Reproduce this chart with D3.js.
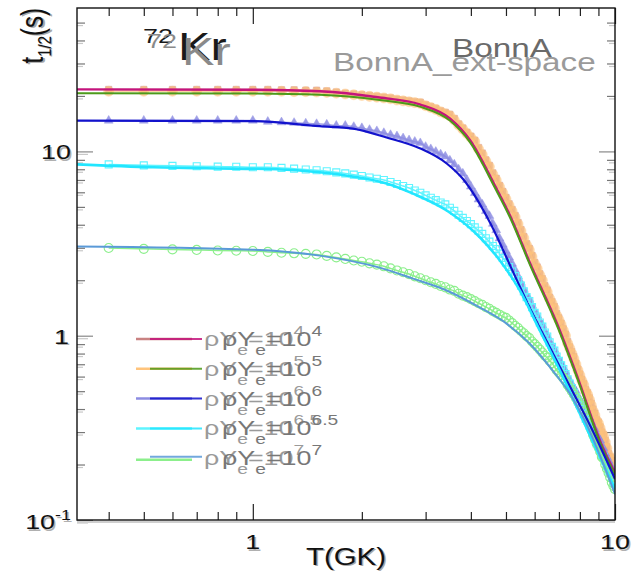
<!DOCTYPE html>
<html>
<head>
<meta charset="utf-8">
<script src="https://cdnjs.cloudflare.com/ajax/libs/d3/7.8.5/d3.min.js"></script>
<style>
body { margin: 0; background: #fff; }
text { font-family: "Liberation Sans", Arial, sans-serif; }
</style>
</head>
<body>
<div id="chart"></div>
<script>
// Temperature grid of the ext-space points (GK)
var tempGrid = [
	0.4, 0.5, 0.6, 0.7, 0.8, 0.9, 1.0, 1.1, 1.2, 1.3,
	1.4, 1.5, 1.6, 1.7, 1.8, 1.9, 2.0, 2.1, 2.2, 2.3,
	2.4, 2.5, 2.6, 2.7, 2.8, 2.9, 3.0, 3.1, 3.2, 3.3,
	3.4, 3.5, 3.6, 3.7, 3.8, 3.9, 4.0, 4.1, 4.2, 4.3,
	4.4, 4.5, 4.6, 4.7, 4.8, 4.9, 5.0, 5.1, 5.2, 5.3,
	5.4, 5.5, 5.6, 5.7, 5.8, 5.9, 6.0, 6.1, 6.2, 6.3,
	6.4, 6.5, 6.6, 6.7, 6.8, 6.9, 7.0, 7.1, 7.2, 7.3,
	7.4, 7.5, 7.6, 7.7, 7.8, 7.9, 8.0, 8.1, 8.2, 8.3,
	8.4, 8.5, 8.6, 8.7, 8.8, 8.9, 9.0, 9.1, 9.2, 9.3,
	9.4, 9.5, 9.6, 9.7, 9.8, 9.9, 10.0
];

// BonnA_ext-space half-lives (s), one value per tempGrid entry
var ext4 = [
	21.7, 21.7, 21.7, 21.7, 21.7, 21.7, 21.7, 21.7, 21.6, 21.6,
	21.5, 21.5, 21.3, 21.0, 20.7, 20.5, 20.3, 20.1, 19.9, 19.7,
	19.5, 19.2, 19.0, 18.8, 18.6, 18.5, 17.9, 17.5, 17.1, 16.6,
	16.3, 15.9, 15.1, 14.1, 13.4, 12.7, 12.1, 11.5, 10.5, 9.8,
	9.0, 8.4, 7.65, 7.15, 6.55, 6.07, 5.63, 5.2, 4.84, 4.49,
	4.12, 3.77, 3.46, 3.16, 2.98, 2.73, 2.5, 2.36, 2.17, 2.04,
	1.87, 1.77, 1.62, 1.53, 1.44, 1.32, 1.25, 1.17, 1.09, 1.02,
	0.93, 0.87, 0.82, 0.77, 0.71, 0.66, 0.62, 0.58, 0.55, 0.51,
	0.49, 0.46, 0.43, 0.40, 0.38, 0.35, 0.34, 0.32, 0.30, 0.29,
	0.27, 0.25, 0.23, 0.22, 0.21, 0.195, 0.19
];
var ext5 = [
	21.2, 21.2, 21.2, 21.2, 21.2, 21.2, 21.2, 21.2, 21.2, 21.1,
	21.1, 21.0, 20.9, 20.7, 20.5, 20.3, 20.1, 19.9, 19.7, 19.5,
	19.3, 19.0, 18.8, 18.6, 18.4, 18.2, 17.7, 17.3, 16.9, 16.4,
	16.0, 15.6, 14.8, 13.9, 13.2, 12.5, 11.9, 11.3, 10.3, 9.6,
	8.85, 8.25, 7.5, 7.0, 6.42, 5.95, 5.52, 5.1, 4.74, 4.4,
	4.04, 3.7, 3.39, 3.1, 2.92, 2.68, 2.45, 2.31, 2.13, 2.0,
	1.83, 1.73, 1.59, 1.5, 1.41, 1.29, 1.22, 1.15, 1.07, 1.0,
	0.91, 0.855, 0.8, 0.75, 0.7, 0.65, 0.61, 0.57, 0.54, 0.5,
	0.48, 0.45, 0.42, 0.39, 0.37, 0.345, 0.335, 0.315, 0.295, 0.285,
	0.265, 0.245, 0.225, 0.215, 0.205, 0.19, 0.185
];
var ext6 = [
	14.7, 14.7, 14.7, 14.7, 14.7, 14.7, 14.7, 14.5, 14.4, 14.3,
	14.2, 14.1, 14.0, 13.8, 13.8, 13.6, 13.4, 13.1, 12.9, 12.6,
	12.3, 12.1, 11.8, 11.5, 11.3, 11.1, 10.6, 10.3, 9.96, 9.65,
	9.39, 8.93, 8.5, 7.99, 7.59, 7.0, 6.45, 5.95, 5.49, 5.16,
	4.75, 4.47, 4.05, 3.74, 3.37, 3.12, 2.88, 2.66, 2.46, 2.27,
	2.1, 1.94, 1.79, 1.66, 1.58, 1.46, 1.36, 1.29, 1.2, 1.14,
	1.05, 1.0, 0.93, 0.88, 0.84, 0.78, 0.74, 0.71, 0.67, 0.64,
	0.6, 0.57, 0.54, 0.52, 0.5, 0.47, 0.45, 0.43, 0.41, 0.39,
	0.38, 0.36, 0.34, 0.32, 0.31, 0.29, 0.28, 0.27, 0.25, 0.245,
	0.23, 0.22, 0.21, 0.2, 0.19, 0.18, 0.175
];
var ext65 = [
	8.5, 8.4, 8.35, 8.3, 8.27, 8.25, 8.2, 8.2, 8.14, 8.06,
	7.98, 7.9, 7.8, 7.7, 7.6, 7.48, 7.35, 7.22, 7.11, 7.0,
	6.83, 6.66, 6.49, 6.33, 6.14, 5.97, 5.77, 5.6, 5.44, 5.28,
	5.16, 4.95, 4.76, 4.53, 4.36, 4.19, 4.03, 3.87, 3.71, 3.57,
	3.38, 3.24, 3.07, 2.95, 2.79, 2.64, 2.5, 2.36, 2.23, 2.11,
	2.0, 1.87, 1.74, 1.62, 1.54, 1.43, 1.33, 1.27, 1.18, 1.12,
	1.04, 0.99, 0.92, 0.87, 0.83, 0.77, 0.73, 0.69, 0.66, 0.62,
	0.58, 0.55, 0.52, 0.49, 0.465, 0.44, 0.42, 0.40, 0.375, 0.355,
	0.345, 0.325, 0.31, 0.29, 0.275, 0.26, 0.25, 0.24, 0.225, 0.22,
	0.21, 0.195, 0.185, 0.18, 0.17, 0.16, 0.158
];
var ext7 = [
	2.99, 2.96, 2.94, 2.92, 2.9, 2.89, 2.88, 2.85, 2.82, 2.8,
	2.78, 2.76, 2.71, 2.66, 2.61, 2.56, 2.52, 2.47, 2.43, 2.38,
	2.32, 2.26, 2.21, 2.16, 2.1, 2.05, 2.0, 1.95, 1.91, 1.86,
	1.83, 1.78, 1.75, 1.69, 1.65, 1.62, 1.58, 1.54, 1.5, 1.47,
	1.43, 1.40, 1.36, 1.33, 1.3, 1.27, 1.25, 1.21, 1.17, 1.13,
	1.1, 1.06, 1.03, 0.995, 0.97, 0.93, 0.9, 0.87, 0.84, 0.81,
	0.78, 0.76, 0.73, 0.71, 0.68, 0.65, 0.63, 0.61, 0.59, 0.57,
	0.54, 0.52, 0.5, 0.48, 0.46, 0.44, 0.42, 0.4, 0.385, 0.365,
	0.354, 0.33, 0.31, 0.29, 0.275, 0.26, 0.25, 0.235, 0.22, 0.215,
	0.2, 0.19, 0.18, 0.17, 0.16, 0.153, 0.147
];

// BonnA curves (temperature, half-life)
var bonnT4 = [0.327, 1.0, 1.53, 2.24, 2.89, 3.5, 3.98, 4.66, 5.13, 5.82, 6.92, 8.0, 9.09, 10];
var bonn4 = [21.7, 21.6, 21.2, 19.6, 18.0, 15.1, 11.5, 6.53, 4.49, 2.49, 1.16, 0.548, 0.269, 0.18];
var bonn5 = [20.7, 20.6, 20.3, 19.0, 17.5, 14.7, 11.2, 6.35, 4.38, 2.43, 1.13, 0.535, 0.263, 0.176];
var bonnT6 = [0.327, 1.0, 1.53, 1.89, 2.34, 2.89, 3.43, 3.80, 4.52, 5.23, 5.93, 6.74, 7.65, 8.53, 10];
var bonn6 = [14.7, 14.6, 13.7, 13.3, 11.9, 10.4, 8.6, 7.1, 4.1, 2.22, 1.31, 0.8, 0.495, 0.327, 0.167];
var bonnT65 = [0.327, 0.53, 0.746, 1.165, 1.53, 1.89, 2.34, 2.77, 3.43, 4.24, 4.81, 5.46, 6.21, 7.05, 8.0, 10];
var bonn65 = [8.5, 8.2, 8.1, 8.0, 7.7, 7.3, 6.7, 5.9, 4.78, 3.41, 2.56, 1.76, 1.06, 0.645, 0.377, 0.147];
var bonnT7 = [0.327, 1.0, 1.53, 2.24, 2.77, 3.43, 4.24, 5.03, 5.82, 6.74, 7.51, 8.26, 10];
var bonn7 = [3.05, 2.93, 2.72, 2.34, 2.04, 1.76, 1.42, 1.16, 0.905, 0.645, 0.484, 0.345, 0.138];

// Legend exponents of rho*Ye
var legendExp = ["4", "5", "6", "6.5", "7"];

// Axis ticks
var xMajor = [1, 10];
var xMinor = [0.4, 0.5, 0.6, 0.7, 0.8, 0.9, 2, 3, 4, 5, 6, 7, 8, 9];
var yMajor = [0.1, 1, 10];
var yMinor = [0.2, 0.3, 0.4, 0.5, 0.6, 0.7, 0.8, 0.9, 2, 3, 4, 5, 6, 7, 8, 9, 20, 30, 40, 50];

// Set up SVG and frame
var svgWidth = 635;
var svgHeight = 572;
var frame = { left: 77, right: 615, top: 8, bottom: 520 };
var stretch = 1.28; // the picture is widened horizontally

var svg = d3.select("#chart")
	.append("svg")
	.attr("width", svgWidth)
	.attr("height", svgHeight);

var xScale = d3.scaleLog().domain([0.327, 10]).range([frame.left, frame.right]);
var yScale = d3.scaleLog().domain([0.1, 60]).range([frame.bottom, frame.top]);

svg.append("clipPath")
	.attr("id", "plotClip")
	.append("rect")
	.attr("x", frame.left)
	.attr("y", frame.top)
	.attr("width", frame.right - frame.left)
	.attr("height", frame.bottom - frame.top);

// helper for widened text
function addText(parent, x, y, size, color, anchor) {
	return parent.append("text")
		.attr("transform", `translate(${x}, ${y}) scale(${stretch}, 1)`)
		.attr("font-size", size)
		.attr("fill", color)
		.attr("text-anchor", anchor || "start");
}

// ---- axes ticks ----
function tickGroup(axis, tx, ty, color) {
	var g = svg.append("g")
		.attr("transform", `translate(${tx}, ${ty})`)
		.call(axis);
	g.select(".domain").remove();
	g.selectAll("line").attr("stroke", color).attr("stroke-width", 1.2);
	g.selectAll("text").remove();
	return g;
}

// ghost ticks from the second overlaid plot
tickGroup(d3.axisLeft(yScale).tickValues(yMajor).tickSize(-11).tickFormat(""), frame.left, 2.5, "#c8c8c8");
tickGroup(d3.axisLeft(yScale).tickValues(yMinor).tickSize(-6).tickFormat(""), frame.left, 2.5, "#c8c8c8");
tickGroup(d3.axisRight(yScale).tickValues(yMinor).tickSize(-6).tickFormat(""), frame.right, 2.5, "#c8c8c8");

tickGroup(d3.axisBottom(xScale).tickValues(xMajor).tickSize(-16).tickFormat(""), 0, frame.bottom, "#222");
tickGroup(d3.axisBottom(xScale).tickValues(xMinor).tickSize(-8).tickFormat(""), 0, frame.bottom, "#222");
tickGroup(d3.axisTop(xScale).tickValues(xMajor).tickSize(-16).tickFormat(""), 0, frame.top, "#222");
tickGroup(d3.axisTop(xScale).tickValues(xMinor).tickSize(-8).tickFormat(""), 0, frame.top, "#222");
tickGroup(d3.axisLeft(yScale).tickValues(yMajor).tickSize(-16).tickFormat(""), frame.left, 0, "#888");
tickGroup(d3.axisLeft(yScale).tickValues(yMinor).tickSize(-8).tickFormat(""), frame.left, 0, "#777");
tickGroup(d3.axisRight(yScale).tickValues(yMajor).tickSize(-16).tickFormat(""), frame.right, 0, "#888");
tickGroup(d3.axisRight(yScale).tickValues(yMinor).tickSize(-8).tickFormat(""), frame.right, 0, "#777");

// ---- data ----
var plot = svg.append("g").attr("clip-path", "url(#plotClip)");

function toPoints(ts, vs) {
	return ts.map((t, i) => ({ t: t, v: vs[i] }));
}

var lineGen = d3.line()
	.x(d => xScale(d.t))
	.y(d => yScale(d.v))
	.curve(d3.curveMonotoneX);

// drawing order: rosy squares under the orange circles
var extSeries = [
	{ values: ext4, color: "#c98282", shape: "square", fill: true, opacity: 0.7, size: 40 },
	{ values: ext5, color: "#ffc47c", shape: "circle", fill: true, opacity: 0.7, size: 80 },
	{ values: ext6, color: "#8c8ce2", shape: "triangle", fill: true, opacity: 0.85, size: 34 },
	{ values: ext65, color: "#5ff4ff", shape: "square", fill: false, opacity: 1, size: 49 },
	{ values: ext7, color: "#8cef8c", shape: "circle", fill: false, opacity: 1, size: 64 }
];

var symbolTypes = { circle: d3.symbolCircle, square: d3.symbolSquare, triangle: d3.symbolTriangle };

extSeries.forEach(function(s) {
	var pts = toPoints(tempGrid, s.values);
	plot.append("path")
		.datum(pts)
		.attr("d", lineGen)
		.attr("fill", "none")
		.attr("stroke", s.color)
		.attr("stroke-width", 1.5)
		.attr("opacity", s.opacity);
	plot.append("g")
		.selectAll("path")
		.data(pts)
		.enter()
		.append("path")
		.attr("transform", d => `translate(${xScale(d.t)}, ${yScale(d.v)})`)
		.attr("d", d3.symbol().type(symbolTypes[s.shape]).size(s.size))
		.attr("fill", s.fill ? s.color : "none")
		.attr("stroke", s.color)
		.attr("stroke-width", s.fill ? 0.5 : 1.1)
		.attr("opacity", s.opacity);
});

var bonnSeries = [
	{ t: bonnT4, v: bonn4, color: "#c4147c", width: 2.4 },
	{ t: bonnT4, v: bonn5, color: "#4c9a1a", width: 2 },
	{ t: bonnT6, v: bonn6, color: "#1212cc", width: 2.2 },
	{ t: bonnT65, v: bonn65, color: "#22e6ff", width: 2.6 },
	{ t: bonnT7, v: bonn7, color: "#5a9ad8", width: 2 }
];

bonnSeries.forEach(function(s) {
	plot.append("path")
		.datum(toPoints(s.t, s.v))
		.attr("d", lineGen)
		.attr("fill", "none")
		.attr("stroke", s.color)
		.attr("stroke-width", s.width);
});

// ---- frame ----
svg.append("line")
	.attr("x1", frame.left).attr("x2", frame.right)
	.attr("y1", frame.bottom + 2).attr("y2", frame.bottom + 2)
	.attr("stroke", "#cfcfcf").attr("stroke-width", 2);
svg.append("rect")
	.attr("x", frame.left)
	.attr("y", frame.top)
	.attr("width", frame.right - frame.left)
	.attr("height", frame.bottom - frame.top)
	.attr("fill", "none")
	.attr("stroke", "#111")
	.attr("stroke-width", 1.4);

// ---- tick labels (black with grey shadow) ----
function shadowLabel(x, y, parts, anchor) {
	[["#b0b0b0", 1.5, 1.5], ["#111", 0, 0]].forEach(function(c) {
		var t = addText(svg, x + c[1], y + c[2], 21, c[0], anchor);
		parts.forEach(function(p) {
			t.append("tspan")
				.attr("font-size", p.sup ? 14 : 21)
				.attr("dy", p.dy || 0)
				.text(p.text);
		});
	});
}

shadowLabel(71, yScale(10) + 8, [{ text: "10" }], "end");
shadowLabel(69, yScale(1) + 8, [{ text: "1" }], "end");
shadowLabel(71, yScale(0.1) + 9, [{ text: "10" }, { text: "-1", sup: true, dy: -9 }], "end");
shadowLabel(xScale(1), 549, [{ text: "1" }], "middle");
shadowLabel(xScale(10), 549, [{ text: "10" }], "middle");

// axis titles
[["#a8a8a8", 1.5, 1], ["#111", 0, 0]].forEach(function(c) {
	addText(svg, 346 + c[1], 565 + c[2], 23, c[0], "middle").text("T(GK)");

	var yt = svg.append("text")
		.attr("transform", `translate(${43 + c[1]}, ${8 + c[2]}) rotate(-90) scale(1, ${stretch})`)
		.attr("font-size", 24)
		.attr("fill", c[0])
		.attr("text-anchor", "end");
	yt.append("tspan").text("t");
	yt.append("tspan").attr("font-size", 15).attr("dy", 6).text("1/2");
	yt.append("tspan").attr("dy", -6).text("(s)");
});

// nucleus label, two overlaid copies
[["#1a1a1a", 0, 0], ["#8a8a8a", 4, 5]].forEach(function(c) {
	addText(svg, 143 + c[1], 43 + c[2], 21, c[0]).text("72");
	addText(svg, 178 + c[1], 60 + c[2], 38, c[0]).text("Kr");
});

// model labels
addText(svg, 452, 57, 26, "#6a6a6a").text("BonnA");
addText(svg, 333, 71, 26, "#9a9a9a").text("BonnA_ext-space");

// ---- legend ----
var legend = svg.append("g");

legendExp.forEach(function(exp, i) {
	var rowY = 339 + i * 29.8;
	var ext = extSeries[i];
	var bonn = bonnSeries[i];

	legend.append("line")
		.attr("x1", 136).attr("x2", 192)
		.attr("y1", rowY + (i === 4 ? 1.5 : 0)).attr("y2", rowY + (i === 4 ? 1.5 : 0))
		.attr("stroke", ext.color)
		.attr("stroke-width", 2.5);
	legend.append("line")
		.attr("x1", 150).attr("x2", 202)
		.attr("y1", rowY - (i === 4 ? 1.5 : 0)).attr("y2", rowY - (i === 4 ? 1.5 : 0))
		.attr("stroke", bonn.color)
		.attr("stroke-width", 2)
		.attr("opacity", 0.85);

	[[204, "#9a9a9a"], [222, "#777"]].forEach(function(c) {
		var t = addText(legend, c[0], rowY + 7, 21, c[1]);
		t.append("tspan").text("\u03c1Y");
		t.append("tspan").attr("font-size", 15).attr("dy", 9).text("e");
		t.append("tspan").attr("dy", -9).text("=10");
		t.append("tspan").attr("font-size", 15).attr("dy", -10).text(exp);
	});
});
</script>
</body>
</html>
